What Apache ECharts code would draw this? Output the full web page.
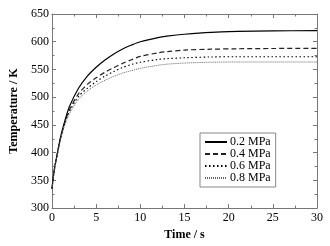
<!DOCTYPE html>
<html><head><meta charset="utf-8">
<script src="https://cdn.jsdelivr.net/npm/echarts@6/dist/echarts.min.js"></script>
<style>html,body{margin:0;padding:0;background:#fff}#c{width:330px;height:246px}</style>
</head><body><div id="c"></div>
<script>
var times = [0, 0.25, 0.5, 1, 1.5, 2, 3, 4, 5, 6, 7, 8, 9, 10, 12, 13, 15, 18, 21, 25, 30];
var p02 = [335, 368, 390, 430, 460, 484, 516, 538, 554, 567, 578, 587, 594, 600, 607.5, 610, 613.5, 617, 618.5, 619.5, 620];
var p04 = [335, 368, 390, 429, 457, 478, 506, 523, 535, 545, 553.5, 561, 567.5, 573.5, 580, 582, 585, 586.5, 587.3, 587.8, 588];
var p06 = [335, 367, 389, 427, 455, 475, 501, 516, 528, 538, 546.5, 553.5, 559, 563, 568, 569.5, 571, 572.5, 573, 573, 573];
var p08 = [335, 366, 388, 425, 452, 471, 496, 511, 522, 530.5, 537.5, 543.5, 548, 552, 557.5, 559.5, 561.5, 563, 563.5, 563.5, 563.5];
var seriesNames = ['0.2 MPa', '0.4 MPa', '0.6 MPa', '0.8 MPa'];
var xTicks = [0, 5, 10, 15, 20, 25, 30];
var yTicks = [300, 350, 400, 450, 500, 550, 600, 650];

function pairs(v){ return times.map(function(t,i){ return [t, v[i]]; }); }
var font = 'Liberation Serif';
var axisGrey = '#777';
var styles = [
  {color:'#000', width:1.2, type:'solid'},
  {color:'#222', width:1.2, type:[5,3]},
  {color:'#000', width:1.1, type:[1.5,2.5]},
  {color:'#666', width:1, type:[1,1]}
];
var data = [p02, p04, p06, p08];
var chart = echarts.init(document.getElementById('c'), null, {renderer:'canvas'});
function xa(pos, show){
  return {type:'value', position:pos, min:xTicks[0], max:xTicks[xTicks.length-1], interval:5,
    axisLine:{show:true, onZero:false, lineStyle:{color:axisGrey, width:1}},
    axisTick:{show:true, inside:true, length:4, lineStyle:{color:axisGrey}},
    minorTick:{show:true, splitNumber:2, length:2.5, lineStyle:{color:axisGrey}},
    splitLine:{show:false},
    axisLabel:{show:show, color:'#000', fontFamily:font, fontSize:12, margin:4},
    name: show ? 'Time / s' : '', nameLocation:'middle', nameGap:16,
    nameTextStyle:{color:'#000', fontFamily:font, fontSize:12, fontWeight:'bold'}};
}
function ya(pos, show){
  return {type:'value', position:pos, min:yTicks[0], max:yTicks[yTicks.length-1], interval:50,
    axisLine:{show:true, onZero:false, lineStyle:{color:axisGrey, width:1}},
    axisTick:{show:true, inside:true, length:4, lineStyle:{color:axisGrey}},
    minorTick:{show:true, splitNumber:2, length:2.5, lineStyle:{color:axisGrey}},
    splitLine:{show:false},
    axisLabel:{show:show, color:'#000', fontFamily:font, fontSize:12, margin:3},
    name: show ? 'Temperature / K' : '', nameLocation:'middle', nameGap:30,
    nameTextStyle:{color:'#000', fontFamily:font, fontSize:12, fontWeight:'bold'}};
}
chart.setOption({
  animation:false,
  backgroundColor:'#fff',
  grid:{left:52, right:13, top:14, bottom:35},
  xAxis:[xa('bottom', true), xa('top', false)],
  yAxis:[ya('left', true), ya('right', false)],
  legend:{
    show:true, left:200, top:133, orient:'vertical',
    borderColor:'#888', borderWidth:1, padding:[3,5,3,4],
    itemWidth:22, itemHeight:8, itemGap:0,
    itemStyle:{opacity:0},
    textStyle:{color:'#000', fontFamily:font, fontSize:12, padding:[0,0,0,-2]},
    data: seriesNames.map(function(n){ return {name:n}; })
  },
  series: seriesNames.map(function(n,i){
    return {name:n, type:'line', xAxisIndex:0, yAxisIndex:0, data:pairs(data[i]),
      showSymbol:false, symbol:'none', smooth:0.3, lineStyle:styles[i], itemStyle:{color:styles[i].color}};
  })
});
</script></body></html>
